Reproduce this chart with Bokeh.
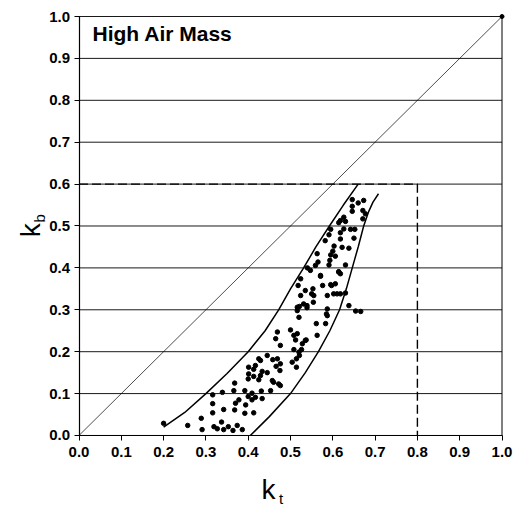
import math
from bokeh.plotting import figure
from bokeh.models import Range1d, FixedTicker, NumeralTickFormatter, Label
from bokeh.embed import file_html
from bokeh.resources import INLINE

# ---- data ----
kt = [0.200, 0.257, 0.289, 0.291, 0.316, 0.316, 0.319, 0.327, 0.337, 0.342, 0.342, 0.353, 0.364,
      0.374, 0.386, 0.316, 0.339, 0.368, 0.370, 0.392, 0.413, 0.394, 0.378, 0.368, 0.392, 0.400,
      0.409, 0.417, 0.409, 0.431, 0.433, 0.453, 0.460, 0.472, 0.400, 0.401, 0.413, 0.425, 0.429,
      0.413, 0.417, 0.433, 0.429, 0.445, 0.458, 0.466, 0.457, 0.476, 0.469, 0.476, 0.401, 0.475,
      0.366, 0.500, 0.516, 0.528, 0.520, 0.514, 0.504, 0.514, 0.535, 0.561, 0.563, 0.583, 0.587,
      0.587, 0.516, 0.524, 0.539, 0.555, 0.587, 0.610, 0.518, 0.535, 0.553, 0.550, 0.571, 0.576,
      0.597, 0.602, 0.554, 0.531, 0.521, 0.516, 0.539, 0.520, 0.585, 0.508, 0.512, 0.537, 0.526,
      0.508, 0.469, 0.465, 0.476, 0.521, 0.425, 0.638, 0.654, 0.666, 0.606, 0.595, 0.618, 0.630,
      0.614, 0.646, 0.673, 0.646, 0.671, 0.677, 0.671, 0.646, 0.626, 0.618, 0.630, 0.614, 0.626,
      0.642, 0.652, 0.595, 0.591, 0.618, 0.618, 0.650, 0.582, 0.622, 0.638, 0.603, 0.563, 0.595,
      0.606, 0.593, 0.565, 0.559, 0.630, 0.591, 0.547, 0.614, 0.618, 0.571, 0.524, 0.540, 0.600,
      0.660, 0.445]
kb = [0.029, 0.024, 0.041, 0.014, 0.076, 0.054, 0.021, 0.016, 0.032, 0.014, 0.062, 0.021, 0.012,
      0.024, 0.014, 0.097, 0.103, 0.061, 0.077, 0.053, 0.054, 0.073, 0.085, 0.125, 0.107, 0.093,
      0.085, 0.091, 0.101, 0.106, 0.088, 0.107, 0.127, 0.123, 0.135, 0.147, 0.141, 0.133, 0.143,
      0.158, 0.167, 0.153, 0.179, 0.191, 0.181, 0.165, 0.131, 0.119, 0.183, 0.171, 0.163, 0.155,
      0.107, 0.252, 0.243, 0.219, 0.199, 0.183, 0.175, 0.163, 0.227, 0.267, 0.239, 0.267, 0.286,
      0.302, 0.306, 0.334, 0.310, 0.334, 0.334, 0.338, 0.358, 0.346, 0.350, 0.338, 0.382, 0.358,
      0.358, 0.338, 0.318, 0.314, 0.308, 0.298, 0.305, 0.282, 0.290, 0.239, 0.228, 0.228, 0.205,
      0.205, 0.247, 0.231, 0.215, 0.191, 0.183, 0.310, 0.297, 0.296, 0.362, 0.360, 0.338, 0.340,
      0.390, 0.563, 0.561, 0.547, 0.537, 0.529, 0.517, 0.535, 0.521, 0.513, 0.511, 0.508, 0.493,
      0.492, 0.492, 0.492, 0.479, 0.484, 0.469, 0.471, 0.465, 0.449, 0.447, 0.452, 0.434, 0.431,
      0.428, 0.418, 0.414, 0.406, 0.407, 0.407, 0.394, 0.391, 0.386, 0.380, 0.374, 0.400, 0.440,
      0.555, 0.150]

upper_kt = [0.20, 0.25, 0.30, 0.35, 0.40, 0.44, 0.472, 0.50, 0.531, 0.56, 0.592, 0.625, 0.66]
upper_kb = [0.02, 0.055, 0.10, 0.148, 0.20, 0.25, 0.30, 0.35, 0.40, 0.45, 0.50, 0.55, 0.60]

lower_kt = [0.405, 0.45, 0.50, 0.535, 0.566, 0.593, 0.616, 0.632, 0.646, 0.66, 0.673, 0.685, 0.695, 0.708]
lower_kb = [0.0, 0.045, 0.10, 0.15, 0.20, 0.25, 0.30, 0.35, 0.40, 0.45, 0.50, 0.535, 0.557, 0.577]

diag_kt = [0.0, 1.0]
diag_kb = [0.0, 1.0]

limit_kt = [0.0, 0.8, 0.8]
limit_kb = [0.6, 0.6, 0.0]

ticks = [round(i * 0.1, 1) for i in range(11)]

FONT = "Liberation Sans"

p = figure(width=518, height=506, output_backend="svg", toolbar_location=None,
           x_range=Range1d(-0.1856, 1.039), y_range=Range1d(-0.1695, 1.0382),
           min_border_left=0, min_border_right=0, min_border_top=0, min_border_bottom=0)
p.background_fill_color = "white"
p.border_fill_color = "white"
p.outline_line_color = None
p.xgrid.grid_line_color = None
p.ygrid.grid_line_color = None

# horizontal grid lines at the y ticks, spanning the plot area only
p.segment(x0=[0.0] * len(ticks), y0=ticks, x1=[1.0] * len(ticks), y1=ticks,
          line_color="#1a1a1a", line_width=1)
# right border of plot area
p.segment(x0=[1.0], y0=[0.0], x1=[1.0], y1=[1.0], line_color="black", line_width=1)

for ax in (p.xaxis[0], p.yaxis[0]):
    ax.fixed_location = 0
    ax.bounds = (0, 1)
    ax.ticker = FixedTicker(ticks=ticks)
    ax.formatter = NumeralTickFormatter(format="0.0")
    ax.minor_tick_line_color = None
    ax.major_tick_in = 0
    ax.major_tick_out = 5
    ax.axis_line_color = "black"
    ax.axis_line_width = 1.2
    ax.major_tick_line_color = "black"
    ax.major_label_text_font = FONT
    ax.major_label_text_font_style = "bold"
    ax.major_label_text_font_size = "15px"
    ax.major_label_text_color = "black"
p.xaxis.major_label_standoff = 7
p.yaxis.major_label_standoff = 4

# diagonal
p.line(diag_kt, diag_kb, line_color="black", line_width=0.7)
p.scatter([diag_kt[1]], [diag_kb[1]], marker="circle", size=4, color="black")

# limit lines
p.line(limit_kt, limit_kb, line_color="black", line_width=1.4, line_dash="9 4")

# envelope curves
p.line(upper_kt, upper_kb, line_color="black", line_width=1.5)
p.line(lower_kt, lower_kb, line_color="black", line_width=1.5)

# data points
p.scatter(kt, kb, marker="circle", size=4.5, color="black")

# title inside plot
p.add_layout(Label(x=0.032, y=0.931, text="High Air Mass", text_font=FONT,
                   text_font_style="bold", text_font_size="21px", text_color="black"))

# axis labels with subscripts
p.add_layout(Label(x=0.448, y=-0.130, text="k", text_font=FONT, text_font_size="28px",
                   text_align="center", text_baseline="alphabetic", text_color="black"))
p.add_layout(Label(x=0.478, y=-0.150, text="t", text_font=FONT, text_font_size="15px",
                   text_align="center", text_baseline="alphabetic", text_color="black"))
p.add_layout(Label(x=-0.115, y=0.49, text="k", text_font=FONT, text_font_size="28px",
                   angle=math.pi / 2, text_align="center", text_baseline="alphabetic",
                   text_color="black"))
p.add_layout(Label(x=-0.093, y=0.518, text="b", text_font=FONT, text_font_size="15px",
                   angle=math.pi / 2, text_align="center", text_baseline="alphabetic",
                   text_color="black"))

open("out.html", "w").write(file_html(p, INLINE))
